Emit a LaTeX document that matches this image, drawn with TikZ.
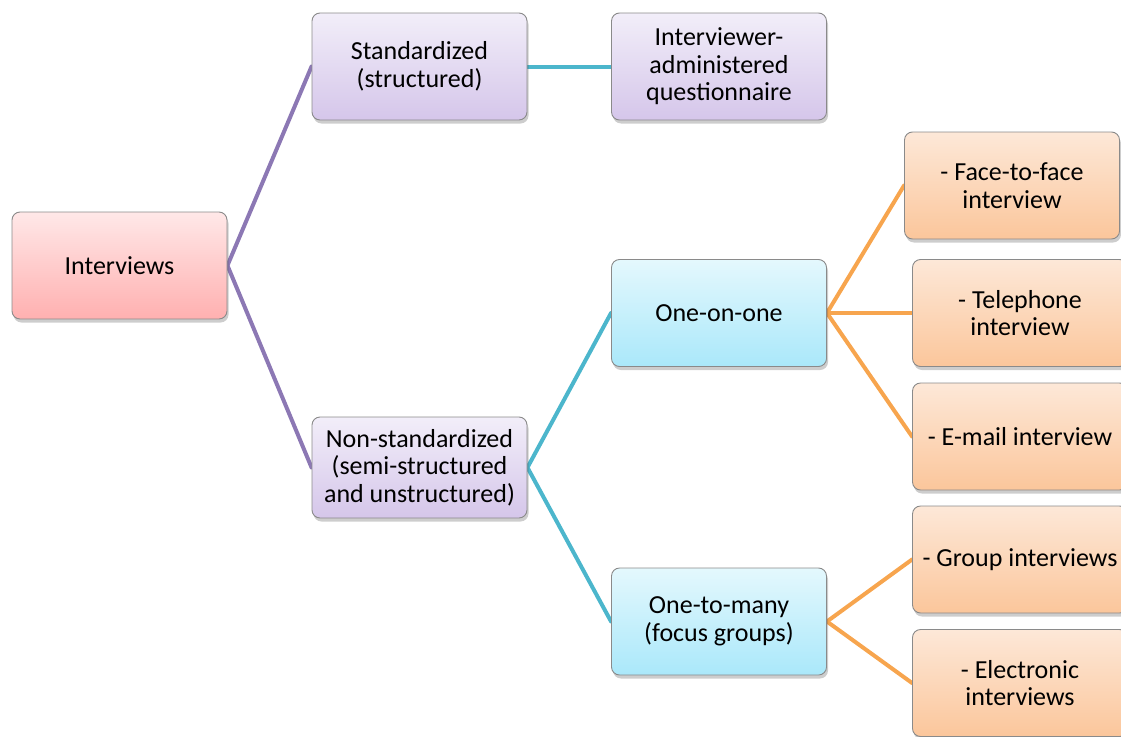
\documentclass[tikz,border=0pt]{standalone}
\usepackage{fontspec}
\setmainfont{Carlito}
\usetikzlibrary{shadows,backgrounds}
\definecolor{pinkT}{HTML}{FFE8E8}
\definecolor{pinkB}{HTML}{FFB0B0}
\definecolor{purT}{HTML}{F2EEF9}
\definecolor{purB}{HTML}{D5C6EA}
\definecolor{bluT}{HTML}{E4F8FD}
\definecolor{bluB}{HTML}{AAE8FA}
\definecolor{orT}{HTML}{FDE8D8}
\definecolor{orB}{HTML}{FBC69B}
\definecolor{linePur}{HTML}{8C78B4}
\definecolor{lineCy}{HTML}{4CB6CC}
\definecolor{lineOr}{HTML}{F7A54E}
\definecolor{boxLine}{HTML}{8A8A8A}
\tikzset{
  box/.style={rectangle, rounded corners=8pt, draw=boxLine, line width=0.9pt,
    minimum width=215pt, minimum height=107pt, align=center, inner sep=0pt,
    font=\fontsize{26}{27.5}\selectfont,
    drop shadow={opacity=0.28, shadow xshift=1.5pt, shadow yshift=-3.5pt, fill=black!70}},
  pinkbox/.style={box, top color=pinkT, bottom color=pinkB},
  purbox/.style={box, top color=purT, bottom color=purB},
  blubox/.style={box, top color=bluT, bottom color=bluB},
  orbox/.style={box, top color=orT, bottom color=orB},
  conn/.style={line width=4pt, line cap=round},
  cpur/.style={conn, draw=linePur},
  ccy/.style={conn, draw=lineCy},
  cor/.style={conn, draw=lineOr},
}
\begin{document}
\begin{tikzpicture}[x=1pt, y=-1pt]
\useasboundingbox (0,0) rectangle (1121,736);
% nodes
\node[pinkbox] (interviews) at (119.5,265.5) {Interviews};
\node[purbox] (std) at (419.5,66.5) {Standardized\\(structured)};
\node[purbox] (quest) at (719,66.5) {Interviewer-\\administered\\questionnaire};
\node[purbox, minimum height=101pt] (nonstd) at (419.5,467.5) {Non-standardized\\(semi-structured\\and unstructured)};
\node[blubox] (one) at (719,313) {One-on-one};
\node[blubox] (many) at (719,621.5) {One-to-many\\(focus groups)};
\node[orbox] (face) at (1012,185.5) {- Face-to-face\\interview};
\node[orbox] (tel) at (1020,313) {- Telephone\\interview};
\node[orbox] (email) at (1020,436.5) {- E-mail interview};
\node[orbox] (group) at (1020,559.5) {- Group interviews};
\node[orbox] (elec) at (1020,683) {- Electronic\\interviews};
% connectors (behind nodes)
\begin{scope}[on background layer]
\draw[cpur] (interviews.east) -- (std.west);
\draw[cpur] (interviews.east) -- (nonstd.west);
\draw[ccy] (std.east) -- (quest.west);
\draw[ccy] (nonstd.east) -- (one.west);
\draw[ccy] (nonstd.east) -- (many.west);
\draw[cor] (one.east) -- (face.west);
\draw[cor] (one.east) -- (tel.west);
\draw[cor] (one.east) -- (email.west);
\draw[cor] (many.east) -- (group.west);
\draw[cor] (many.east) -- (elec.west);
\end{scope}
\end{tikzpicture}
\end{document}
